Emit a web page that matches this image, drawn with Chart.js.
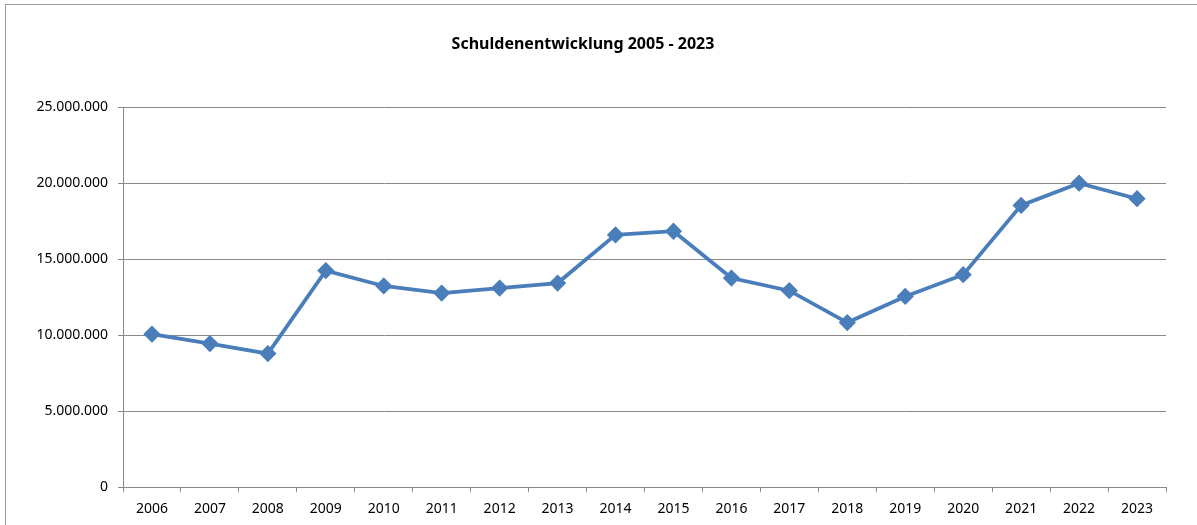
<!DOCTYPE html>
<html>
<head>
<meta charset="utf-8">
<script src="https://cdn.jsdelivr.net/npm/chart.js@4/dist/chart.umd.min.js"></script>
<style>
  html, body { margin: 0; padding: 0; background: #fff; overflow: hidden; }
  #wrap { position: relative; width: 1197px; height: 525px; }
</style>
</head>
<body>
<div id="wrap"><canvas id="chart" width="1197" height="525"></canvas></div>
<script>
const years = ["2006", "2007", "2008", "2009", "2010", "2011", "2012", "2013", "2014",
  "2015", "2016", "2017", "2018", "2019", "2020", "2021", "2022", "2023"];
const schulden = [10070000, 9450000, 8790000, 14250000, 13240000, 12770000, 13100000, 13430000, 16600000,
  16840000, 13760000, 12930000, 10830000, 12550000, 13980000, 18540000, 20000000, 18980000];
const yTicks = [0, 5000000, 10000000, 15000000, 20000000, 25000000];

const gridGrey = "#888888";
const lineBlue = "#4a7ebb";

// german thousands separator
function fmt(v) {
  return String(v).replace(/\B(?=(\d{3})+(?!\d))/g, ".");
}

// outer frame like the spreadsheet chart box (right and bottom edge cut off)
const frame = {
  id: "frame",
  beforeDraw(chart) {
    const ctx = chart.ctx;
    ctx.save();
    ctx.strokeStyle = "#999999";
    ctx.lineWidth = 1;
    ctx.strokeRect(5.5, 4.5, 1300, 600);
    ctx.restore();
  }
};

new Chart(document.getElementById("chart"), {
  type: "line",
  data: {
    labels: years,
    datasets: [{
      label: "Schulden",
      data: schulden,
      borderColor: lineBlue,
      backgroundColor: lineBlue,
      borderWidth: 3.75,
      pointStyle: "rectRot",
      pointRadius: 6,
      pointHoverRadius: 6,
      tension: 0
    }]
  },
  options: {
    responsive: false,
    animation: false,
    devicePixelRatio: 1,
    layout: { padding: { left: 0, right: 31, top: 0, bottom: 0 } },
    plugins: {
      legend: { display: false },
      tooltip: { enabled: false },
      title: {
        display: true,
        text: "Schuldenentwicklung 2005 - 2023",
        color: "#000",
        font: { family: "'Noto Sans', sans-serif", size: 16, weight: "bold" },
        padding: { top: 35, bottom: 53 }
      }
    },
    scales: {
      x: {
        offset: true,
        grid: {
          offset: true,
          drawOnChartArea: false,
          drawTicks: true,
          tickLength: 5,
          color: gridGrey
        },
        border: { color: gridGrey },
        ticks: {
          color: "#000",
          padding: 8,
          maxRotation: 0,
          autoSkip: false,
          font: { family: "'Noto Sans', sans-serif", size: 14 }
        }
      },
      y: {
        min: 0,
        max: 25000000,
        afterFit(scale) { scale.width = 123; },
        afterBuildTicks(scale) { scale.ticks = yTicks.map(v => ({ value: v })); },
        grid: { color: gridGrey, tickLength: 5 },
        border: { color: gridGrey },
        ticks: {
          color: "#000",
          padding: 10,
          font: { family: "'Noto Sans', sans-serif", size: 14 },
          callback: v => fmt(v)
        }
      }
    }
  },
  plugins: [frame]
});
</script>
</body>
</html>
